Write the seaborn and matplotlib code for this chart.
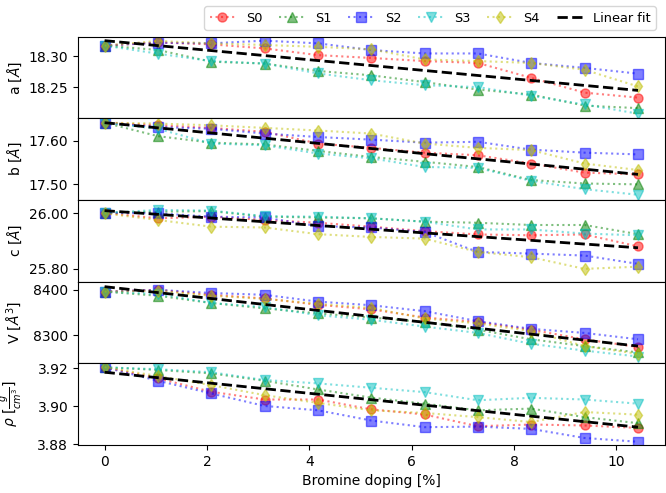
import numpy as np
import pandas as pd
import matplotlib
matplotlib.use("Agg")
import matplotlib.pyplot as plt
from matplotlib.ticker import FormatStrFormatter
import seaborn as sns

sns.set_style("ticks", rc={"axes.edgecolor": "black", "xtick.color": "black",
                           "ytick.color": "black", "text.color": "black",
                           "axes.labelcolor": "black"})

# Bromine doping [%] (n/96)
doping = [0.0, 1.04, 2.08, 3.125, 4.17, 5.21, 6.25, 7.29, 8.33, 9.375, 10.42]
series = ["S0", "S1", "S2", "S3", "S4"]

a_vals = {
    "S0": [18.317, 18.322, 18.319, 18.3125, 18.3016, 18.297, 18.292, 18.289, 18.265, 18.241, 18.233],
    "S1": [18.317, 18.310, 18.291, 18.288, 18.276, 18.269, 18.258, 18.246, 18.238, 18.220, 18.216],
    "S2": [18.317, 18.3217, 18.3206, 18.325, 18.3206, 18.3098, 18.3043, 18.3043, 18.289, 18.281, 18.2717],
    "S3": [18.317, 18.304, 18.292, 18.288, 18.272, 18.261, 18.253, 18.250, 18.236, 18.222, 18.207],
    "S4": [18.317, 18.3245, 18.3206, 18.318, 18.315, 18.311, 18.2946, 18.292, 18.289, 18.278, 18.251],
}
b_vals = {
    "S0": [17.642, 17.636, 17.630, 17.621, 17.594, 17.584, 17.573, 17.567, 17.548, 17.527, 17.523],
    "S1": [17.642, 17.611, 17.596, 17.592, 17.577, 17.563, 17.552, 17.540, 17.510, 17.502, 17.500],
    "S2": [17.642, 17.632, 17.628, 17.617, 17.609, 17.603, 17.596, 17.598, 17.580, 17.573, 17.569],
    "S3": [17.642, 17.628, 17.594, 17.590, 17.571, 17.560, 17.540, 17.538, 17.508, 17.489, 17.476],
    "S4": [17.642, 17.640, 17.636, 17.630, 17.624, 17.617, 17.594, 17.584, 17.579, 17.548, 17.533],
}
c_vals = {
    "S0": [26.002, 25.982, 25.988, 25.976, 25.966, 25.952, 25.936, 25.924, 25.921, 25.924, 25.881],
    "S1": [26.002, 26.006, 26.008, 25.988, 25.985, 25.982, 25.970, 25.966, 25.958, 25.958, 25.925],
    "S2": [26.002, 26.000, 25.988, 25.985, 25.954, 25.949, 25.933, 25.861, 25.855, 25.848, 25.818],
    "S3": [26.002, 26.012, 26.010, 25.990, 25.988, 25.982, 25.970, 25.942, 25.942, 25.927, 25.921],
    "S4": [26.000, 25.976, 25.952, 25.949, 25.925, 25.915, 25.909, 25.861, 25.842, 25.800, 25.808],
}
v_vals = {
    "S0": [8396, 8400, 8389, 8381, 8367, 8357, 8339, 8329, 8312, 8291, 8274],
    "S1": [8396, 8387, 8371, 8359, 8348, 8339, 8329, 8312, 8291, 8276, 8262],
    "S2": [8396, 8400, 8393, 8389, 8374, 8366, 8353, 8331, 8314, 8305, 8291],
    "S3": [8396, 8391, 8371, 8362, 8344, 8334, 8319, 8305, 8281, 8266, 8253],
    "S4": [8396, 8398, 8387, 8380, 8369, 8360, 8337, 8326, 8309, 8276, 8259],
}
rho_vals = {
    "S0": [3.9205, 3.9147, 3.9076, 3.9035, 3.9035, 3.8983, 3.8956, 3.8894, 3.8903, 3.8898, 3.8885],
    "S1": [3.9205, 3.9191, 3.9173, 3.9134, 3.9088, 3.9045, 3.9013, 3.8978, 3.8987, 3.8942, 3.8910],
    "S2": [3.9205, 3.9134, 3.9067, 3.9001, 3.8978, 3.8924, 3.8889, 3.8892, 3.8880, 3.8832, 3.8812],
    "S3": [3.9205, 3.9195, 3.9179, 3.9138, 3.9120, 3.9097, 3.9074, 3.9031, 3.9044, 3.9035, 3.9013],
    "S4": [3.9205, 3.9159, 3.9111, 3.9058, 3.9017, 3.8978, 3.8964, 3.8942, 3.8916, 3.8969, 3.8955],
}

# linear fit, values at first and last doping
fit_a = [18.325, 18.2446]
fit_b = [17.642, 17.523]
fit_c = [26.0097, 25.876]
fit_v = [8407, 8276]
fit_rho = [3.9179, 3.8889]

panels = [
    (a_vals, fit_a, r"a [$\AA$]", [18.25, 18.30], "%.2f", (18.1995, 18.3314)),
    (b_vals, fit_b, r"b [$\AA$]", [17.50, 17.60], "%.2f", (17.464, 17.652)),
    (c_vals, fit_c, r"c [$\AA$]", [25.80, 26.00], "%.2f", (25.754, 26.048)),
    (v_vals, fit_v, r"V [$\AA^3$]", [8300, 8400], "%d", (8238, 8418)),
    (rho_vals, fit_rho, r"$\rho$ [$\frac{g}{cm^3}$]", [3.88, 3.90, 3.92], "%.2f", (3.8795, 3.9226)),
]

colors = {"S0": "r", "S1": "g", "S2": "b", "S3": "c", "S4": "y"}
markers = {"S0": "o", "S1": "^", "S2": "s", "S3": "v", "S4": "d"}

fig, axes = plt.subplots(5, 1, sharex=True, figsize=(6.66, 4.93), dpi=100)
fig.subplots_adjust(left=0.117, right=0.998, top=0.9256, bottom=0.0974, hspace=0)

for ax, (vals, fit, ylabel, ticks, fmt, lims) in zip(axes, panels):
    for s in series:
        sns.lineplot(x=doping, y=vals[s], ax=ax, color=colors[s], marker=markers[s],
                     linestyle=":", alpha=0.5, markersize=6.5, markeredgecolor=colors[s],
                     markeredgewidth=1, label=s, errorbar=None)
    sns.lineplot(x=[doping[0], doping[-1]], y=fit, ax=ax, color="k", linestyle="--",
                 linewidth=2, label="Linear fit", errorbar=None)
    if ax.get_legend() is not None:
        ax.get_legend().remove()
    ax.set_yticks(ticks)
    ax.yaxis.set_major_formatter(FormatStrFormatter(fmt))
    ax.set_ylim(*lims)
    ax.set_ylabel(ylabel, labelpad=3)

axes[-1].set_xticks([0, 2, 4, 6, 8, 10])
axes[-1].set_xlabel("Bromine doping [%]")
fig.align_ylabels(axes)

handles, labels = axes[0].get_legend_handles_labels()
fig.legend(handles, labels, loc="upper right", bbox_to_anchor=(0.994, 1.0), ncol=6,
           frameon=True, fontsize=9.3, columnspacing=1.3)

fig.savefig("out.png", dpi=100)
